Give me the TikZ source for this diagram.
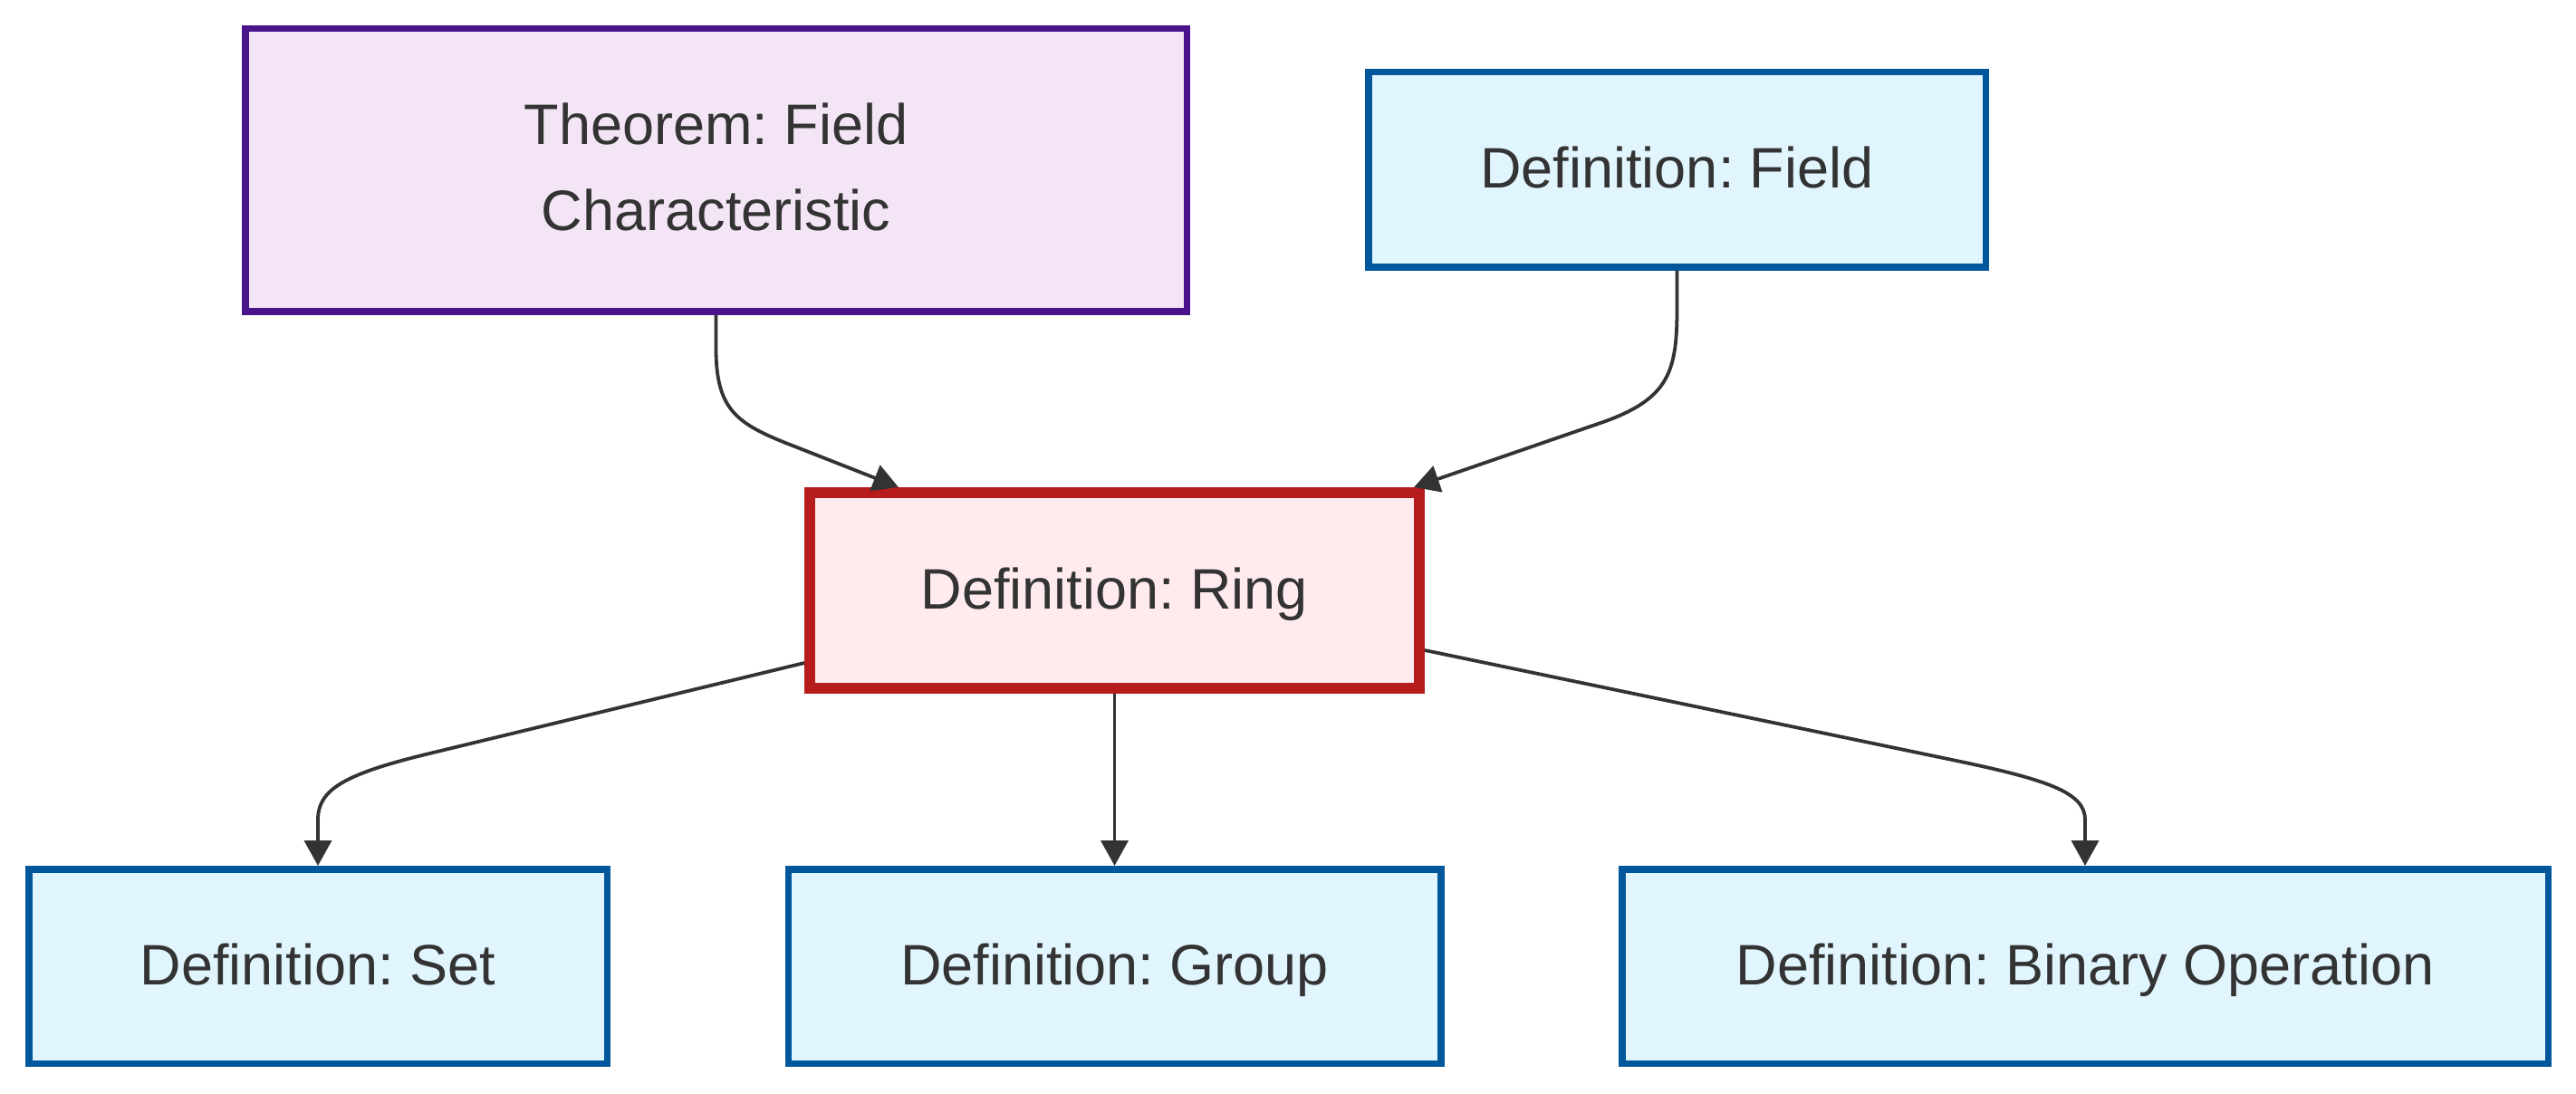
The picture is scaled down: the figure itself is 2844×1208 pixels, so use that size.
\documentclass[tikz,border=0pt]{standalone}
\usepackage{fontspec}
\setmainfont{Liberation Sans}
\usetikzlibrary{arrows.meta,calc}
\frenchspacing
\definecolor{txt}{HTML}{333333}
\definecolor{thmfill}{HTML}{F3E5F5}
\definecolor{thmline}{HTML}{4A148C}
\definecolor{deffill}{HTML}{E1F5FE}
\definecolor{defline}{HTML}{01579B}
\definecolor{ringfill}{HTML}{FFEBEE}
\definecolor{ringline}{HTML}{B71C1C}
\tikzset{
  base/.style={rectangle, inner sep=0pt, text=txt, align=center,
    font=\fontsize{31.5pt}{47.5pt}\selectfont\frenchspacing},
  oneline/.style={text height=25pt, text depth=4.5pt},
  thmbox/.style={base, fill=thmfill, draw=thmline, line width=3.75pt},
  defbox/.style={base, oneline, fill=deffill, draw=defline, line width=3.75pt},
  ringbox/.style={base, oneline, fill=ringfill, draw=ringline, line width=6pt},
  edge/.style={draw=txt, line width=1.9pt, -{Triangle[length=14pt,width=15pt]}}
}
\begin{document}
\begin{tikzpicture}[x=0.5pt,y=-0.5pt]
\useasboundingbox[fill=white] (0,0) rectangle (2844,1208);
\node[thmbox, minimum width=519.75pt, minimum height=156.25pt] (thm) at (790.5,188) {Theorem: Field\\Characteristic\rule[-3.6pt]{0pt}{3.6pt}};
\node[defbox, minimum width=340.75pt, minimum height=107.75pt] (fld) at (1851.5,187.5) {Definition: Field};
\node[ringbox, minimum width=336.5pt, minimum height=108pt] (ring) at (1230.5,652) {Definition: Ring};
\node[defbox, minimum width=319.25pt, minimum height=107.25pt] (set) at (351,1067) {Definition: Set};
\node[defbox, minimum width=360.25pt, minimum height=107.25pt] (grp) at (1230.5,1067) {Definition: Group};
\node[defbox, minimum width=511.25pt, minimum height=107.25pt] (bin) at (2302,1067) {Definition: Binary Operation};
\draw[edge] (thm.south) -- (790.5,385) .. controls (790.5,455) and (815,469) .. (880,494) -- ($(ring.north west)+(104,0)$);
\draw[edge] (fld.south) -- (1851.5,340) .. controls (1851.5,410) and (1843,440) .. (1770,466) -- ($(ring.north east)+(-12,0)$);
\draw[edge] ($(ring.west)+(0,80)$) -- (470,833) .. controls (380,855) and (351,872) .. (351,905) -- (set.north);
\draw[edge] (ring.south) -- (grp.north);
\draw[edge] ($(ring.east)+(0,66)$) -- (2160,840) .. controls (2260,861) and (2302,875) .. (2302,905) -- (bin.north);
\end{tikzpicture}
\end{document}
